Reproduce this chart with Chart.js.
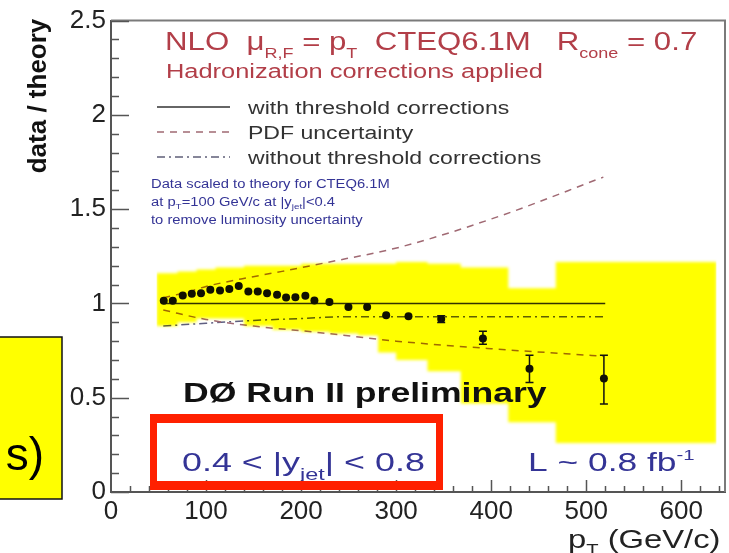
<!DOCTYPE html>
<html>
<head>
<meta charset="utf-8">
<script src="https://cdn.jsdelivr.net/npm/chart.js@4.4.1/dist/chart.umd.min.js"></script>
<style>
  html, body { margin: 0; padding: 0; background: #fff; }
  #wrap { width: 729px; height: 553px; }
</style>
</head>
<body>
<div id="wrap"><canvas id="ratio" width="729" height="553"></canvas></div>
<script>
// measured points (pT in GeV/c, data / theory)
const ptValues = [55.5, 65, 75.5, 85, 94.7, 104.5, 114.7, 124.5, 134.4, 144.5, 154.4, 164.2, 174.7,
  184.2, 194, 204.5, 214, 229.8, 249.8, 269.5, 289.5, 313, 347.4, 391.3, 440.3, 518.6];
const ratioValues = [1.014, 1.014, 1.042, 1.051, 1.054, 1.072, 1.068, 1.077, 1.093, 1.063, 1.063, 1.054, 1.046,
  1.032, 1.033, 1.041, 1.016, 1.007, 0.981, 0.981, 0.937, 0.932, 0.917, 0.814, 0.654, 0.602];
const errUp = [0, 0, 0, 0, 0, 0, 0, 0, 0, 0, 0, 0, 0, 0, 0, 0, 0, 0, 0, 0, 0, 0, 0.018, 0.039, 0.071, 0.123];
const errDown = [0, 0, 0, 0, 0, 0, 0, 0, 0, 0, 0, 0, 0, 0, 0, 0, 0, 0, 0, 0, 0, 0, 0.018, 0.030, 0.073, 0.135];

// theory curves
const withThrX = [55, 520];
const withThrY = [1, 1];
const pdfUpX = [55, 80, 100, 137, 180, 225, 305, 410, 518];
const pdfUpY = [1.03, 1.06, 1.09, 1.13, 1.17, 1.215, 1.30, 1.465, 1.67];
const pdfDownX = [55, 100, 150, 220, 300, 400, 518];
const pdfDownY = [0.965, 0.915, 0.88, 0.845, 0.80, 0.76, 0.72];
const noThrX = [55, 100, 150, 200, 250, 520];
const noThrY = [0.88, 0.895, 0.91, 0.92, 0.93, 0.93];

// experimental systematic band (bin edges, per-bin upper / lower)
const bandEdges = [48, 70, 90, 110, 140, 170, 200, 230, 260, 281, 300, 333, 368, 418, 468, 637];
const bandHigh = [1.16, 1.17, 1.18, 1.19, 1.20, 1.20, 1.21, 1.21, 1.21, 1.21, 1.22, 1.21, 1.19, 1.08, 1.22];
const bandLow = [0.88, 0.90, 0.92, 0.92, 0.88, 0.86, 0.85, 0.84, 0.83, 0.74, 0.70, 0.64, 0.47, 0.37, 0.26];

const xTickValues = [0, 100, 200, 300, 400, 500, 600];
const xTickLabels = ["0", "100", "200", "300", "400", "500", "600"];
const yTickValues = [0, 0.5, 1, 1.5, 2, 2.5];
const yTickLabels = ["0", "0.5", "1", "1.5", "2", "2.5"];

const FONT = "'Liberation Sans', Arial, Helvetica, sans-serif";

function pts(xs, ys) {
  return xs.map((x, i) => ({ x: x, y: ys[i] }));
}
function stepPts(edges, vals) {
  const out = vals.map((v, i) => ({ x: edges[i], y: v }));
  out.push({ x: edges[edges.length - 1], y: vals[vals.length - 1] });
  return out;
}

// draw text stretched horizontally like the original slide
function txt(ctx, s, x, y, size, color, sx, weight) {
  ctx.save();
  ctx.font = `${weight || "normal"} ${size}px ${FONT}`;
  ctx.fillStyle = color;
  ctx.textBaseline = "alphabetic";
  ctx.translate(x, y);
  ctx.scale(sx, 1);
  ctx.fillText(s, 0, 0);
  const w = ctx.measureText(s).width * sx;
  ctx.restore();
  return w;
}
function rich(ctx, parts, x, y, color, sx, weight) {
  let cx = x;
  for (const p of parts) {
    cx += txt(ctx, p[0], cx, y + p[2], p[1], color, sx, weight);
  }
}

const deco = {
  id: "deco",
  afterDatasetDraw(chart, args) {
    const ctx = chart.ctx;
    // band is laid over everything with multiply, like the scanned plot
    if (args.index === 1) {
      ctx.globalCompositeOperation = "multiply";
      ctx.filter = "blur(1.5px)";
    }
    if (args.index === 0) {
      ctx.globalCompositeOperation = "source-over";
      ctx.filter = "none";
    }
  },
  afterDatasetsDraw(chart) {
    const ctx = chart.ctx;
    const xs = chart.scales.x, ys = chart.scales.y;
    const a = chart.chartArea;
    ctx.save();
    // error bars
    ctx.strokeStyle = "#111";
    ctx.lineWidth = 1.5;
    ptValues.forEach((p, i) => {
      if (!errUp[i] && !errDown[i]) return;
      const px = xs.getPixelForValue(p);
      const y1 = ys.getPixelForValue(ratioValues[i] + errUp[i]);
      const y2 = ys.getPixelForValue(ratioValues[i] - errDown[i]);
      ctx.beginPath();
      ctx.moveTo(px, y1); ctx.lineTo(px, y2);
      ctx.moveTo(px - 4, y1); ctx.lineTo(px + 4, y1);
      ctx.moveTo(px - 4, y2); ctx.lineTo(px + 4, y2);
      ctx.stroke();
    });
    // frame top / right
    ctx.strokeStyle = "#7a7a7a";
    ctx.lineWidth = 2;
    ctx.beginPath();
    ctx.moveTo(a.left, a.top); ctx.lineTo(a.right, a.top); ctx.lineTo(a.right, a.bottom);
    ctx.stroke();
    // inward ticks
    ctx.strokeStyle = "#555";
    ctx.lineWidth = 1.5;
    ctx.beginPath();
    for (let v = 0; v <= 2.5001; v += 0.1) {
      const py = Math.round(ys.getPixelForValue(v)) + 0.5;
      const major = Math.abs(v * 2 - Math.round(v * 2)) < 1e-6;
      ctx.moveTo(a.left, py); ctx.lineTo(a.left + (major ? 18 : 8), py);
    }
    for (let v = 20; v <= 640; v += 20) {
      const px = Math.round(xs.getPixelForValue(v)) + 0.5;
      const major = v % 100 === 0;
      ctx.moveTo(px, a.bottom); ctx.lineTo(px, a.bottom - (major ? 12 : 6));
    }
    ctx.stroke();
    ctx.restore();
  },
  afterDraw(chart) {
    const ctx = chart.ctx;
    const rose = "rgb(178,62,72)";
    const blue = "rgb(52,52,150)";
    const grey = "#333";

    // header
    rich(ctx, [["NLO  \u03bc", 26, 0], ["R,F", 15, 8], [" = p", 26, 0], ["T", 15, 8],
      ["  CTEQ6.1M   R", 26, 0], ["cone", 15, 8], [" = 0.7", 26, 0]], 165, 50, rose, 1.2);
    txt(ctx, "Hadronization corrections applied", 166, 78, 20, rose, 1.27);

    // legend
    const legend = [
      { label: "with threshold corrections", y: 107, dash: [], color: "#333" },
      { label: "PDF uncertainty", y: 132, dash: [7, 6], color: "rgb(160,105,115)" },
      { label: "without threshold corrections", y: 157, dash: [8, 4, 2, 4], color: "rgb(95,95,120)" },
    ];
    ctx.save();
    legend.forEach((l) => {
      ctx.strokeStyle = l.color;
      ctx.lineWidth = 1.5;
      ctx.setLineDash(l.dash);
      ctx.beginPath();
      ctx.moveTo(157, l.y); ctx.lineTo(230, l.y);
      ctx.stroke();
      txt(ctx, l.label, 248, l.y + 6.5, 18, grey, 1.28);
    });
    ctx.restore();

    // normalisation note
    txt(ctx, "Data scaled to theory for CTEQ6.1M", 151, 188, 12, blue, 1.23);
    rich(ctx, [["at p", 12, 0], ["T", 8, 3], ["=100 GeV/c at |y", 12, 0], ["jet", 8, 3], ["|<0.4", 12, 0]],
      151, 206, blue, 1.23);
    txt(ctx, "to remove luminosity uncertainty", 151, 224, 12, blue, 1.23);

    txt(ctx, "D\u00d8 Run II preliminary", 183, 402, 28, "#111", 1.27, "bold");

    // rapidity bin and luminosity
    rich(ctx, [["0.4 < |y", 26, 0], ["jet", 17, 9], ["| < 0.8", 26, 0]], 182, 471, blue, 1.38);
    rich(ctx, [["L ~ 0.8 fb", 26, 0], ["-1", 15, -11]], 528, 471, blue, 1.36);

    // axis titles
    rich(ctx, [["p", 26, 0], ["T", 16, 8], [" (GeV/c)", 26, 0]], 568, 548, "#222", 1.26);
    ctx.save();
    ctx.translate(46, 96);
    ctx.rotate(-Math.PI / 2);
    ctx.font = `bold 26px ${FONT}`;
    ctx.fillStyle = "#111";
    ctx.textAlign = "center";
    ctx.fillText("data / theory", 0, 0);
    ctx.restore();

    // red highlight box
    ctx.save();
    ctx.fillStyle = "rgb(255,32,0)";
    ctx.fillRect(150, 414, 293, 9);
    ctx.fillRect(150, 481, 293, 9);
    ctx.fillRect(150, 414, 7, 76);
    ctx.fillRect(436, 414, 7, 76);
    // yellow slide box cut at the left edge
    ctx.fillStyle = "rgb(255,255,0)";
    ctx.fillRect(-5, 337, 67, 162);
    ctx.strokeStyle = "#111";
    ctx.lineWidth = 1.5;
    ctx.strokeRect(-5, 337, 67, 162);
    ctx.restore();
    ctx.save();
    ctx.font = `46px ${FONT}`;
    ctx.fillStyle = "#000";
    ctx.textAlign = "right";
    ctx.fillText("s)", 44, 470);
    ctx.restore();
  },
};

const lineBase = { pointRadius: 0, borderWidth: 1.5, fill: false };

new Chart(document.getElementById("ratio").getContext("2d"), {
  type: "line",
  data: {
    datasets: [
      { ...lineBase, label: "band high", data: stepPts(bandEdges, bandHigh), stepped: true,
        borderWidth: 0, fill: "+1", backgroundColor: "rgb(255,255,0)" },
      { ...lineBase, label: "band low", data: stepPts(bandEdges, bandLow), stepped: true, borderWidth: 0 },
      { label: "data", data: pts(ptValues, ratioValues), showLine: false, pointRadius: 4,
        pointBackgroundColor: "#111", pointBorderColor: "#111", pointBorderWidth: 0 },
      { ...lineBase, label: "with threshold corrections", data: pts(withThrX, withThrY), borderColor: "#333" },
      { ...lineBase, label: "PDF up", data: pts(pdfUpX, pdfUpY), borderColor: "rgb(160,105,115)",
        borderDash: [7, 6], cubicInterpolationMode: "monotone" },
      { ...lineBase, label: "PDF down", data: pts(pdfDownX, pdfDownY), borderColor: "rgb(160,105,115)",
        borderDash: [7, 6], cubicInterpolationMode: "monotone" },
      { ...lineBase, label: "without threshold corrections", data: pts(noThrX, noThrY),
        borderColor: "rgb(95,95,130)", borderDash: [8, 4, 2, 4], cubicInterpolationMode: "monotone" },
    ],
  },
  options: {
    responsive: false,
    animation: false,
    events: [],
    layout: { padding: { top: 17, right: 4, left: 0, bottom: 0 } },
    plugins: { legend: { display: false }, tooltip: { enabled: false } },
    scales: {
      x: {
        type: "linear",
        min: 0,
        max: 646,
        afterFit(s) { s.height = 61; },
        afterBuildTicks(s) { s.ticks = xTickValues.map((v) => ({ value: v })); },
        grid: { display: false, drawTicks: false },
        border: { display: true, color: "#555", width: 2 },
        ticks: { autoSkip: false, maxRotation: 0, padding: 4, color: "#222",
          font: { family: FONT, size: 26 },
          callback: (v) => xTickLabels[xTickValues.indexOf(v)] },
      },
      y: {
        type: "linear",
        min: 0,
        max: 2.5,
        afterFit(s) { s.width = 111; },
        afterBuildTicks(s) { s.ticks = yTickValues.map((v) => ({ value: v })); },
        grid: { display: false, drawTicks: false },
        border: { display: true, color: "#555", width: 2 },
        ticks: { padding: 5, color: "#222", font: { family: FONT, size: 26 },
          callback: (v) => yTickLabels[yTickValues.indexOf(v)] },
      },
    },
  },
  plugins: [deco],
});
</script>
</body>
</html>
